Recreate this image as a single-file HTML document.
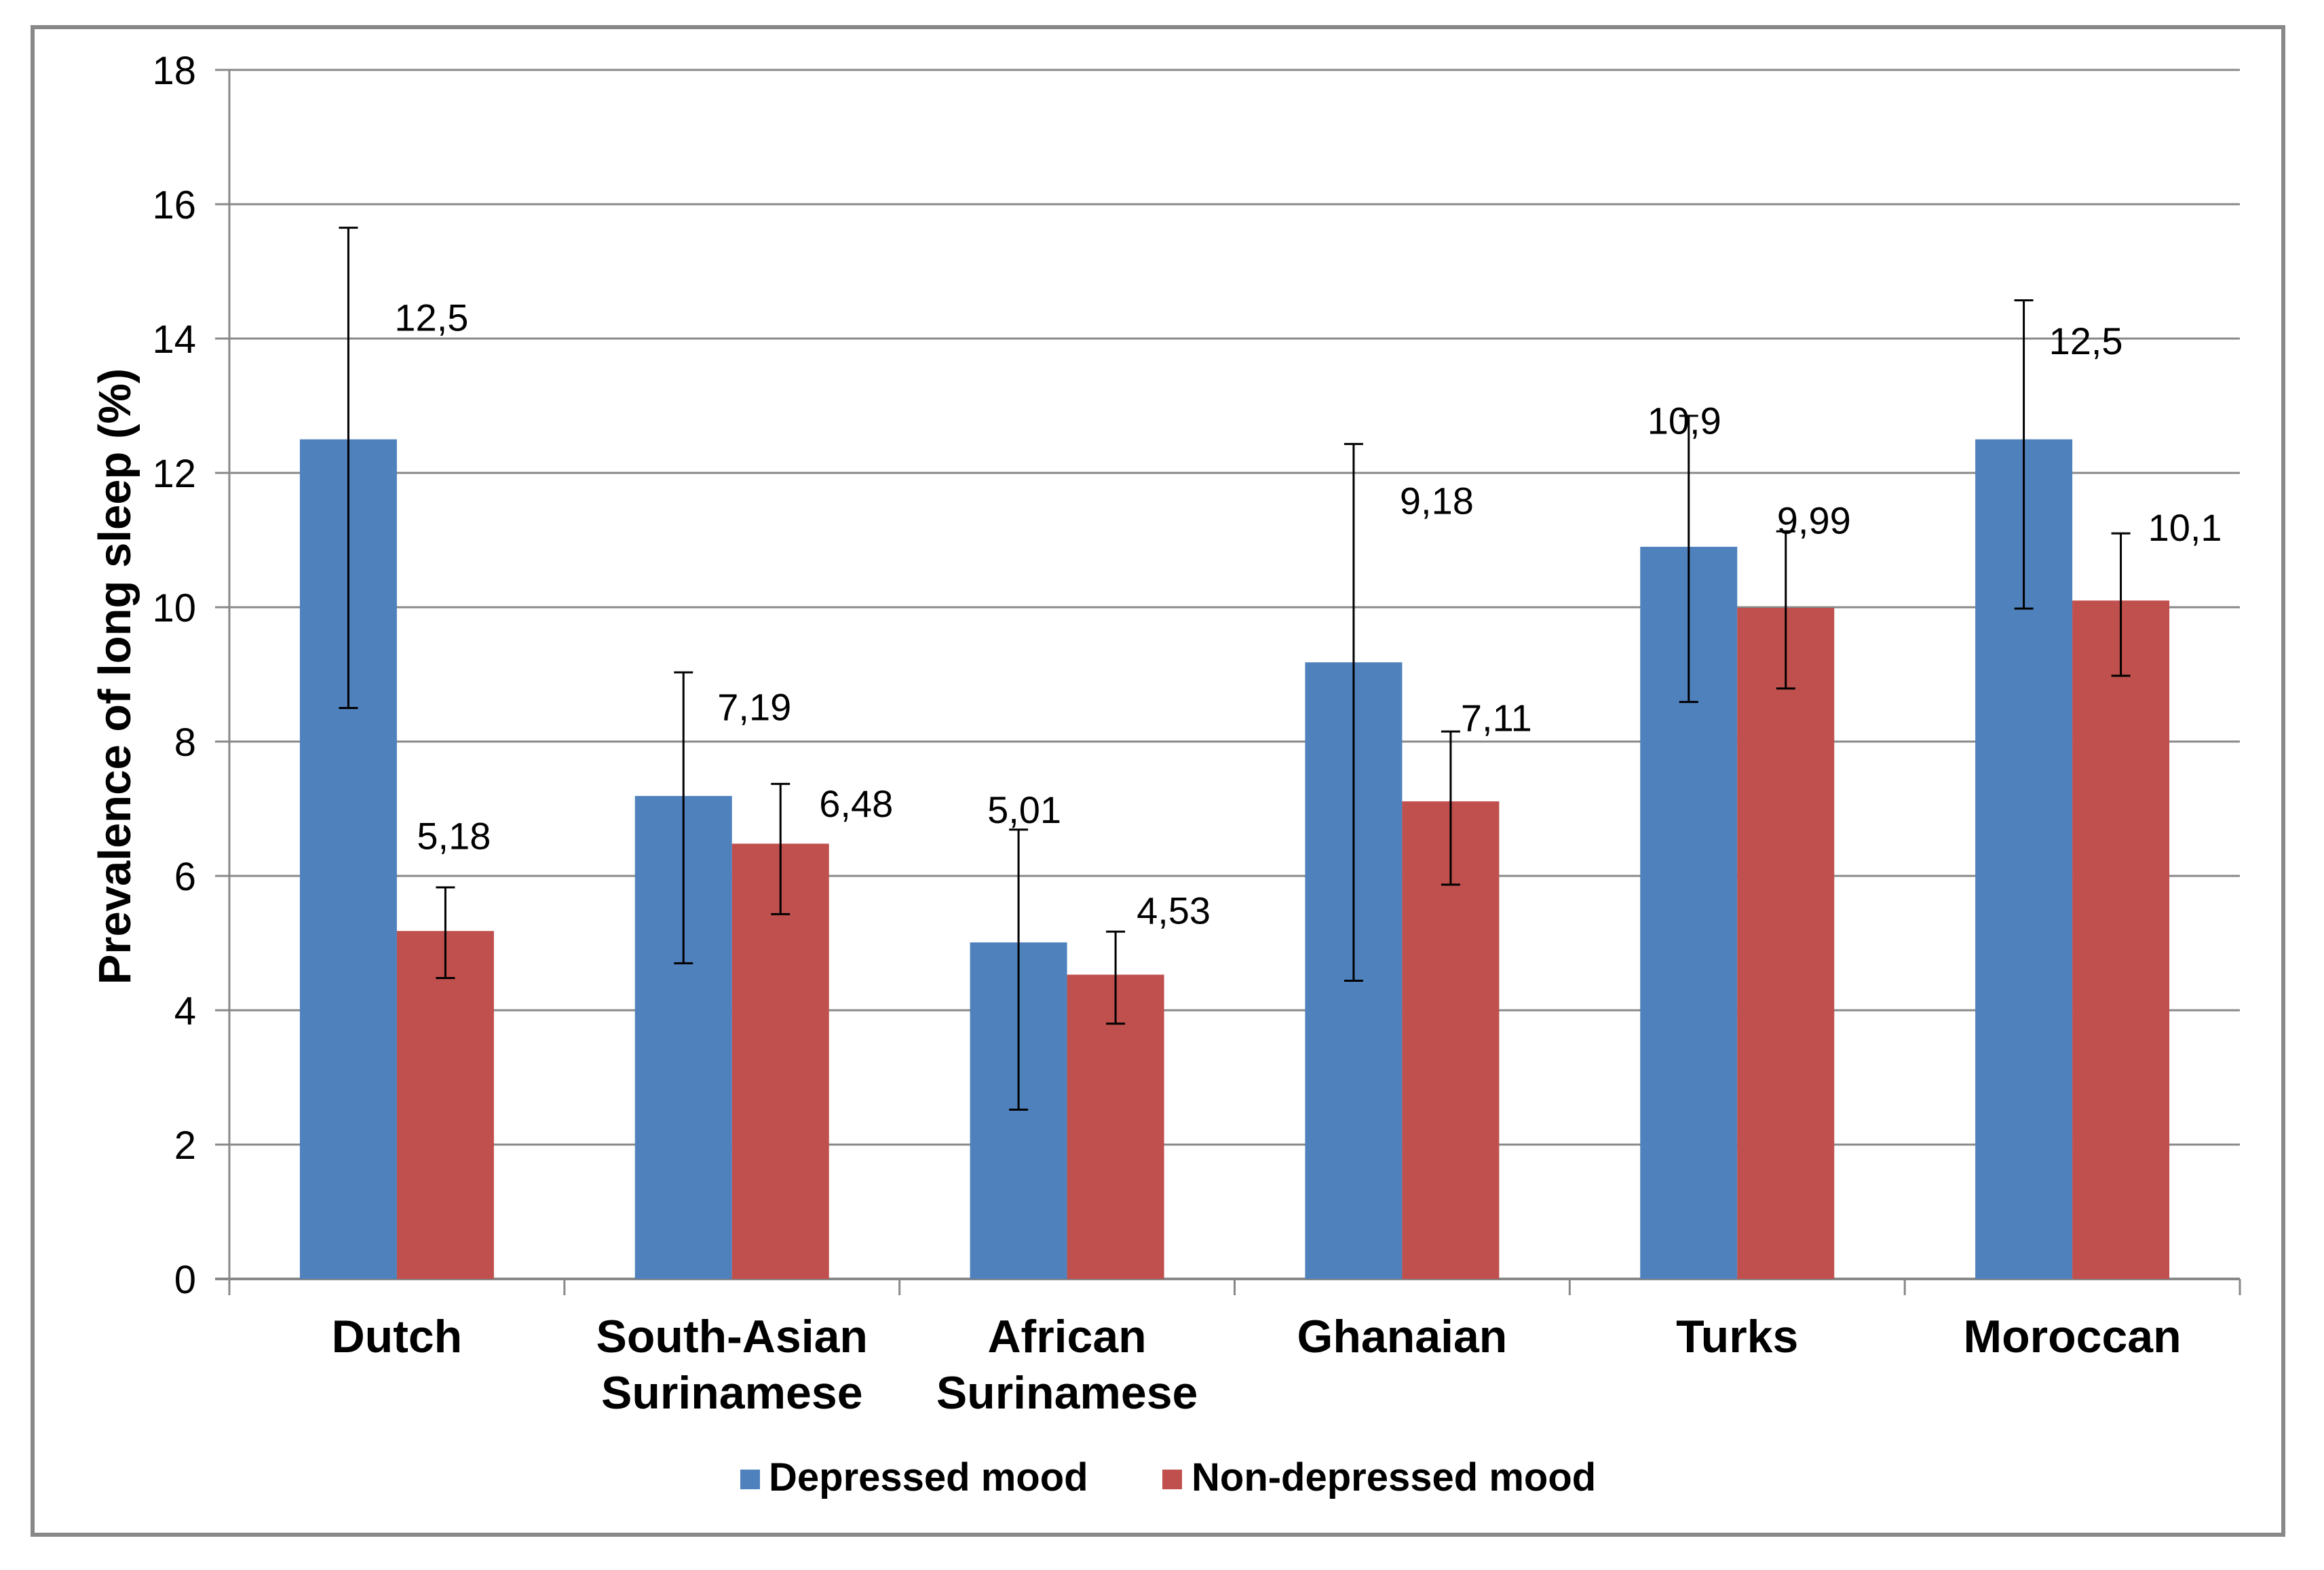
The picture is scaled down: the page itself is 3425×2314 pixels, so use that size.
<!DOCTYPE html>
<html><head><meta charset="utf-8"><style>
html,body{margin:0;padding:0;background:#fff;}
svg{display:block;font-family:"Liberation Sans",Arial,sans-serif;}
</style></head><body>
<svg id="chart" width="3425" height="2314" viewBox="0 0 3425 2314" xmlns="http://www.w3.org/2000/svg">
<rect x="0" y="0" width="3425" height="2314" fill="#fff"/>
<rect x="48" y="40" width="3317" height="2222" fill="#fff" stroke="#888" stroke-width="6"/>
<g id="grid"></g><g id="bars"></g><g id="axes"></g><g id="labels"></g>
<text transform="translate(192,997) rotate(-90)" text-anchor="middle" font-size="67" font-weight="bold" fill="#000">Prevalence of long sleep (%)</text>
<g>
<rect x="1091" y="2166" width="29" height="29" fill="#4F81BD"/>
<text x="1133" y="2197" font-size="58" font-weight="bold">Depressed mood</text>
<rect x="1713" y="2166" width="29" height="29" fill="#C0504D"/>
<text x="1756" y="2197" font-size="58" font-weight="bold">Non-depressed mood</text>
</g>
</svg>
<script>
const categories = [["Dutch"],["South-Asian","Surinamese"],["African","Surinamese"],["Ghanaian"],["Turks"],["Moroccan"]];
const depressed = [12.5, 7.19, 5.01, 9.18, 10.9, 12.5];
const depressedLow = [8.5, 4.7, 2.52, 4.44, 8.59, 9.98];
const depressedHigh = [15.65, 9.03, 6.69, 12.43, 12.85, 14.57];
const depressedLabels = ["12,5","7,19","5,01","9,18","10,9","12,5"];
const nonDepressed = [5.18, 6.48, 4.53, 7.11, 9.99, 10.1];
const nonDepressedLow = [4.48, 5.43, 3.80, 5.87, 8.79, 8.98];
const nonDepressedHigh = [5.83, 7.37, 5.17, 8.15, 11.13, 11.1];
const nonDepressedLabels = ["5,18","6,48","4,53","7,11","9,99","10,1"];
const yTicks = [0,2,4,6,8,10,12,14,16,18];
// label placement (manual Excel positions): value-unit heights and pixel x offsets
const depLabelAt = [14.28, 8.48, 6.95, 11.55, 12.74, 13.93];
const nonLabelAt = [6.56, 7.04, 5.45, 8.32, 11.26, 11.15];
const depLabelDx = [68, 50, -46, 68, -61, 37];
const nonLabelDx = [-42, 57, 31, 15, -13, 40];

const NS="http://www.w3.org/2000/svg";
const X0=338, X1=3301, Y0=1885, Y18=103, YMAX=18;
const band=(X1-X0)/categories.length, barW=143;
const y=v=>Y0-(v/YMAX)*(Y0-Y18);
const cx=i=>X0+band*(i+0.5);
function mk(parent,tag,attrs){const e=document.createElementNS(NS,tag);for(const k in attrs)e.setAttribute(k,attrs[k]);document.getElementById(parent).appendChild(e);return e;}

yTicks.forEach(t=>{
  const g=mk('grid','line',{x1:317,x2:X1,y1:y(t),y2:y(t),stroke:'#888',"stroke-width":t===0?4:3});
  
  
  const tx=mk('axes','text',{x:289,y:y(t)+21,"text-anchor":"end","font-size":58,fill:"#000"});
  
  
  tx.textContent=t;
});
const ya=mk('axes','line',{x1:X0,x2:X0,y1:y(18),y2:Y0+24,stroke:'#888',"stroke-width":3});


for(let i=0;i<=categories.length;i++){
  const tk=mk('axes','line',{x1:X0+band*i,x2:X0+band*i,y1:Y0,y2:Y0+24,stroke:'#888',"stroke-width":3});
  
  
}
function errbar(xc,lo,hi,name){
  const g=[[xc,xc,y(lo),y(hi)],[xc-14,xc+14,y(hi),y(hi)],[xc-14,xc+14,y(lo),y(lo)]];
  g.forEach(a=>{const l=mk('bars','line',{x1:a[0],x2:a[1],y1:a[2],y2:a[3],stroke:'#000',"stroke-width":3});
    
    });
}
categories.forEach((c,i)=>{
  const xc=cx(i);
  const b1=mk('bars','rect',{x:xc-barW,y:y(depressed[i]),width:barW,height:Y0-y(depressed[i]),fill:'#4F81BD'});
  
  
  const b2=mk('bars','rect',{x:xc,y:y(nonDepressed[i]),width:barW,height:Y0-y(nonDepressed[i]),fill:'#C0504D'});
  
  
  errbar(xc-barW/2,depressedLow[i],depressedHigh[i],'error-bar-depressed-'+i);
  errbar(xc+barW/2,nonDepressedLow[i],nonDepressedHigh[i],'error-bar-non-depressed-'+i);
  const l1=mk('labels','text',{x:xc-barW/2+depLabelDx[i],y:y(depLabelAt[i])+16,"font-size":56});
  
  
  l1.textContent=depressedLabels[i];
  const l2=mk('labels','text',{x:xc+barW/2+nonLabelDx[i],y:y(nonLabelAt[i])+16,"font-size":56});
  
  
  l2.textContent=nonDepressedLabels[i];
  c.forEach((line,j)=>{
    const t=mk('labels','text',{x:xc,y:1993+j*83,"text-anchor":"middle","font-size":68,"font-weight":"bold"});
    
    
    t.textContent=line;
  });
});
</script>
</body></html>
